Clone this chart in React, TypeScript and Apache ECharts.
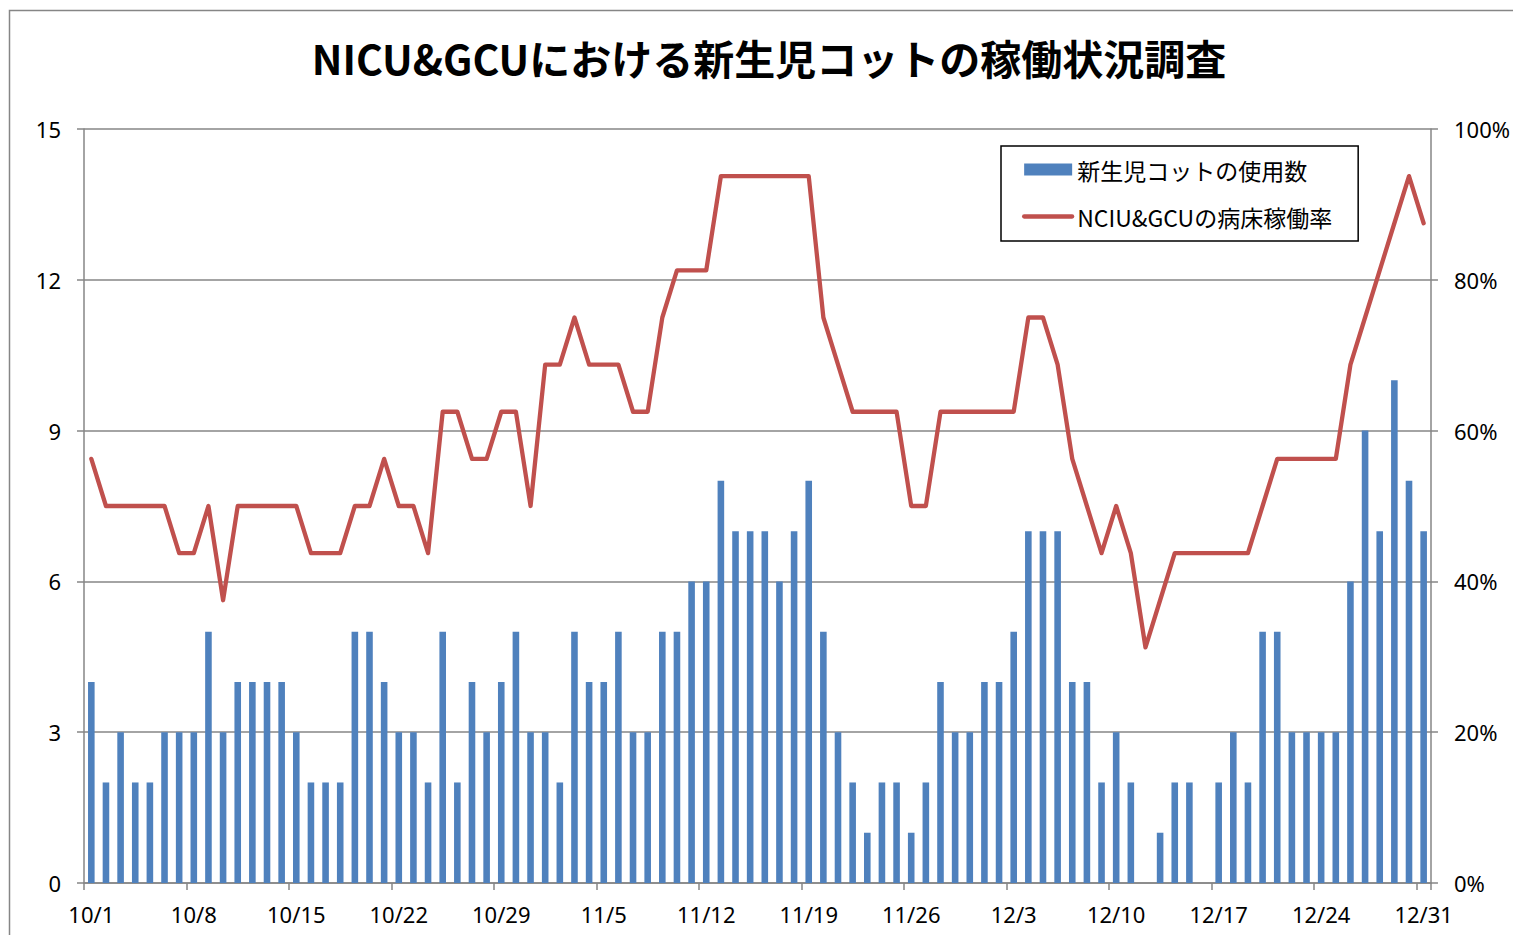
import React, { useEffect, useRef } from "react";
import * as echarts from "echarts";

const dates = [
  "10/1", "10/2", "10/3", "10/4", "10/5", "10/6", "10/7", "10/8", "10/9", "10/10",
  "10/11", "10/12", "10/13", "10/14", "10/15", "10/16", "10/17", "10/18", "10/19", "10/20",
  "10/21", "10/22", "10/23", "10/24", "10/25", "10/26", "10/27", "10/28", "10/29", "10/30",
  "10/31",
  "11/1", "11/2", "11/3", "11/4", "11/5", "11/6", "11/7", "11/8", "11/9", "11/10",
  "11/11", "11/12", "11/13", "11/14", "11/15", "11/16", "11/17", "11/18", "11/19", "11/20",
  "11/21", "11/22", "11/23", "11/24", "11/25", "11/26", "11/27", "11/28", "11/29", "11/30",
  "12/1", "12/2", "12/3", "12/4", "12/5", "12/6", "12/7", "12/8", "12/9", "12/10",
  "12/11", "12/12", "12/13", "12/14", "12/15", "12/16", "12/17", "12/18", "12/19", "12/20",
  "12/21", "12/22", "12/23", "12/24", "12/25", "12/26", "12/27", "12/28", "12/29", "12/30",
  "12/31",
];

// 新生児コットの使用数
const cotUsage: (number | null)[] = [
  4, 2, 3, 2, 2, 3, 3, 3, 5, 3,
  4, 4, 4, 4, 3, 2, 2, 2, 5, 5,
  4, 3, 3, 2, 5, 2, 4, 3, 4, 5,
  3, 3, 2, 5, 4, 4, 5, 3, 3, 5,
  5, 6, 6, 8, 7, 7, 7, 6, 7, 8,
  5, 3, 2, 1, 2, 2, 1, 2, 4, 3,
  3, 4, 4, 5, 7, 7, 7, 4, 4, 2,
  3, 2, 0, 1, 2, 2, null, 2, 3, 2,
  5, 5, 3, 3, 3, 3, 6, 9, 7, 10,
  8, 7,
];

// NCIU&GCUの病床稼働率 (%)
const occupancyRate = [
  56.25, 50, 50, 50, 50, 50, 43.75, 43.75, 50, 37.5,
  50, 50, 50, 50, 50, 43.75, 43.75, 43.75, 50, 50,
  56.25, 50, 50, 43.75, 62.5, 62.5, 56.25, 56.25, 62.5, 62.5,
  50, 68.75, 68.75, 75, 68.75, 68.75, 68.75, 62.5, 62.5, 75,
  81.25, 81.25, 81.25, 93.75, 93.75, 93.75, 93.75, 93.75, 93.75, 93.75,
  75, 68.75, 62.5, 62.5, 62.5, 62.5, 50, 50, 62.5, 62.5,
  62.5, 62.5, 62.5, 62.5, 75, 75, 68.75, 56.25, 50, 43.75,
  50, 43.75, 31.25, 37.5, 43.75, 43.75, 43.75, 43.75, 43.75, 43.75,
  50, 56.25, 56.25, 56.25, 56.25, 56.25, 68.75, 75, 81.25, 87.5,
  93.75, 87.5,
];

const titleText = "NICU&GCUにおける新生児コットの稼働状況調査";
const barName = "新生児コットの使用数";
const lineName = "NCIU&GCUの病床稼働率";

const GRAY = "#868686";
const NUM_FONT = "Noto Sans";
const JP_FONT = "Noto Sans CJK JP";

export default function App() {
  const ref = useRef<HTMLDivElement>(null);
  useEffect(() => {
    const chart = echarts.init(ref.current!, null, { renderer: "svg" });
    chart.setOption({
      animation: false,
      backgroundColor: "#ffffff",
      graphic: [
        {
          type: "rect",
          silent: true,
          shape: { x: 9.5, y: 10.5, width: 1530, height: 950 },
          style: { fill: "none", stroke: GRAY, lineWidth: 1.5 },
        },
      ],
      title: {
        text: titleText,
        left: 764,
        textAlign: "center",
        top: 31,
        textStyle: {
          fontFamily: JP_FONT,
          fontWeight: "bold",
          fontSize: 41,
          color: "#000",
        },
      },
      legend: {
        orient: "vertical",
        left: 1001,
        top: 146,
        padding: [12, 26, 13, 21],
        itemGap: 24,
        itemWidth: 48,
        itemHeight: 12,
        backgroundColor: "#fff",
        borderColor: "#000",
        borderWidth: 1.5,
        textStyle: { fontFamily: JP_FONT, fontSize: 23, color: "#000" },
        lineStyle: { width: 4.3, cap: "round" },
        data: [
          { name: barName, icon: "rect" },
          {
            name: lineName,
            itemStyle: { color: "rgba(0,0,0,0)", borderWidth: 0, opacity: 0 },
          },
        ],
      },
      grid: { left: 84, right: 80, top: 129, bottom: 52 },
      xAxis: {
        type: "category",
        data: dates,
        boundaryGap: true,
        axisLine: { lineStyle: { color: GRAY, width: 1.5 } },
        axisTick: {
          show: true,
          interval: 6,
          length: 7,
          lineStyle: { color: GRAY, width: 1.5 },
        },
        axisLabel: {
          interval: 6,
          margin: 20,
          fontSize: 22,
          fontFamily: NUM_FONT,
          color: "#000",
        },
      },
      yAxis: [
        {
          type: "value",
          min: 0,
          max: 15,
          interval: 3,
          axisLine: { show: true, lineStyle: { color: GRAY, width: 1.5 } },
          axisTick: { show: true, length: 7, lineStyle: { color: GRAY, width: 1.5 } },
          splitLine: { show: true, lineStyle: { color: GRAY, width: 1.5 } },
          axisLabel: { margin: 23, fontSize: 22, fontFamily: NUM_FONT, color: "#000" },
        },
        {
          type: "value",
          min: 0,
          max: 100,
          interval: 20,
          axisLine: { show: true, lineStyle: { color: GRAY, width: 1.5 } },
          axisTick: { show: true, length: 7, lineStyle: { color: GRAY, width: 1.5 } },
          splitLine: { show: false },
          axisLabel: {
            margin: 23,
            fontSize: 22,
            fontFamily: NUM_FONT,
            color: "#000",
            formatter: "{value}%",
          },
        },
      ],
      series: [
        {
          name: barName,
          type: "bar",
          data: cotUsage,
          barWidth: "45%",
          itemStyle: { color: "#4F81BD" },
        },
        {
          name: lineName,
          type: "line",
          yAxisIndex: 1,
          data: occupancyRate,
          symbol: "none",
          showSymbol: false,
          lineStyle: { color: "#C0504D", width: 4.3, cap: "round", join: "round" },
          itemStyle: { color: "#C0504D" },
        },
      ],
    });
    return () => chart.dispose();
  }, []);
  return (
    <div
      ref={ref}
      style={{ position: "fixed", left: 0, top: 0, width: 1513, height: 935 }}
    />
  );
}
